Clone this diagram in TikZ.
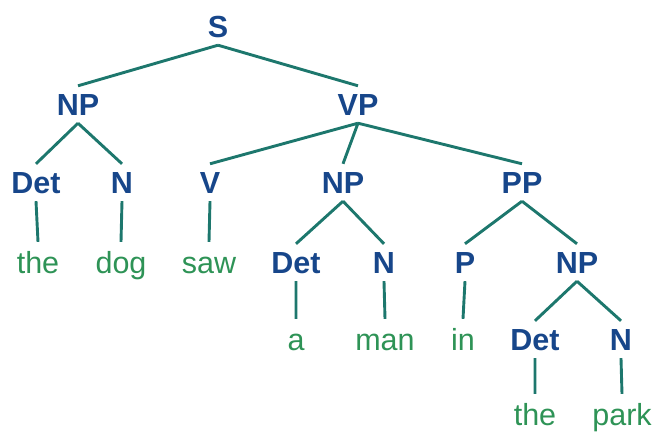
\documentclass[tikz,border=0pt]{standalone}
\usepackage{fontspec}
\setmainfont{Liberation Sans}
\definecolor{catblue}{HTML}{17468A}
\definecolor{wordgreen}{HTML}{2E9356}
\definecolor{linkteal}{HTML}{1D776D}
\tikzset{
  cat/.style={anchor=base, inner xsep=0pt, inner ysep=8pt, text height=21pt, text depth=0pt,
    font=\fontsize{30.5}{30}\selectfont\bfseries, text=catblue},
  word/.style={anchor=base, inner xsep=0pt, inner ysep=10pt, text height=21pt, text depth=0pt,
    font=\fontsize{30.5}{30}\selectfont, text=wordgreen},
  link/.style={draw=linkteal, line width=2.9pt}
}
\begin{document}
\begin{tikzpicture}[x=1pt,y=-1pt]
\useasboundingbox (0,0) rectangle (657,434);
% row baselines: 37, 115, 193, 273, 350, 425
\node[cat] (S) at (218,37) {S};
\node[cat] (NP) at (78,115) {NP};
\node[cat] (VP) at (358,115) {VP};
\node[cat] (Det1) at (36,193) {Det};
\node[cat] (N1) at (122,193) {N};
\node[cat] (V) at (210,193) {V};
\node[cat] (NP2) at (343,193) {NP};
\node[cat] (PP) at (522,193) {PP};
\node[word] (the1) at (38,273) {the};
\node[word] (dog) at (121,273) {dog};
\node[word] (saw) at (209,273) {saw};
\node[cat] (Det2) at (296,273) {Det};
\node[cat] (N2) at (384,273) {N};
\node[cat] (P) at (465,273) {P};
\node[cat] (NP3) at (577,273) {NP};
\node[word] (a) at (296,350) {a};
\node[word] (man) at (385,350) {man};
\node[word] (in) at (463,350) {in};
\node[cat] (Det3) at (535,350) {Det};
\node[cat] (N3) at (621,350) {N};
\node[word] (the2) at (535,425) {the};
\node[word] (park) at (622,425) {park};
\path[link]
  (S.south) -- (NP.north)
  (S.south) -- (VP.north)
  (NP.south) -- (Det1.north)
  (NP.south) -- (N1.north)
  (VP.south) -- (V.north)
  (VP.south) -- (NP2.north)
  (VP.south) -- (PP.north)
  (Det1.south) -- (the1.north)
  (N1.south) -- (dog.north)
  (V.south) -- (saw.north)
  (NP2.south) -- (Det2.north)
  (NP2.south) -- (N2.north)
  (PP.south) -- (P.north)
  (PP.south) -- (NP3.north)
  (Det2.south) -- (a.north)
  (N2.south) -- (man.north)
  (P.south) -- (in.north)
  (NP3.south) -- (Det3.north)
  (NP3.south) -- (N3.north)
  (Det3.south) -- (the2.north)
  (N3.south) -- (park.north);
\end{tikzpicture}
\end{document}
